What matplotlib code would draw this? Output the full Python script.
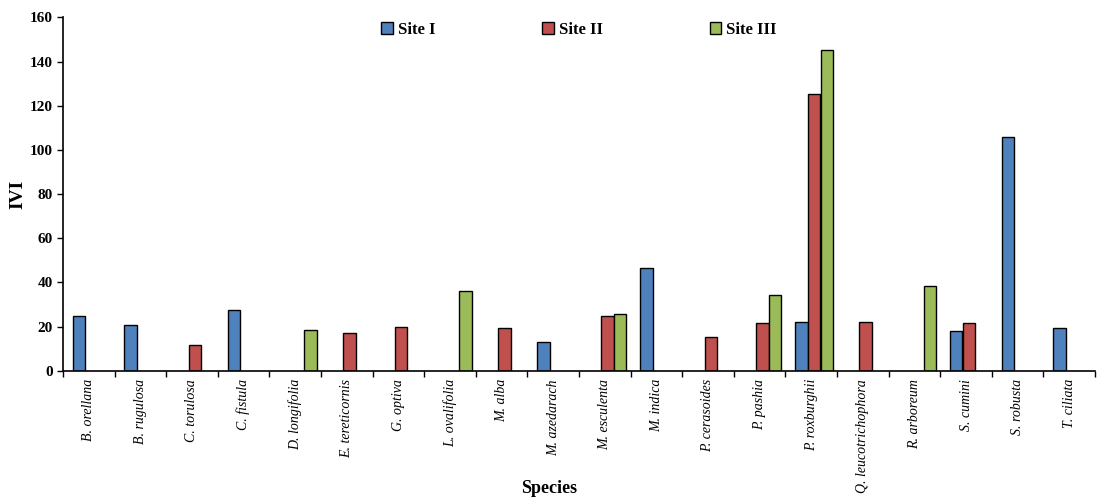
import numpy as np
import matplotlib.pyplot as plt
from matplotlib.ticker import FixedLocator, NullFormatter

species = ['B. orellana', 'B. rugulosa', 'C. torulosa', 'C. fistula', 'D. longifolia',
           'E. tereticornis', 'G. optiva', 'L. ovalifolia', 'M. alba', 'M. azedarach',
           'M. esculenta', 'M. indica', 'P. cerasoides', 'P. pashia', 'P. roxburghii',
           'Q. leucotrichophora', 'R. arboreum', 'S. cumini', 'S. robusta', 'T. ciliata']
site1 = [24.8, 20.8, 0, 27.6, 0, 0, 0, 0, 0, 13.0,
         0, 46.6, 0, 0, 22.0, 0, 0, 18.0, 105.9, 19.2]
site2 = [0, 0, 11.8, 0, 0, 16.9, 19.8, 0, 19.2, 0,
         24.8, 0, 15.1, 21.5, 125.4, 22.0, 0, 21.5, 0, 0]
site3 = [0, 0, 0, 0, 18.6, 0, 0, 36.1, 0, 0,
         25.8, 0, 0, 34.4, 145.2, 0, 38.3, 0, 0, 0]
series = ['Site I', 'Site II', 'Site III']
colors = ['#4F81BD', '#C0504D', '#9BBB59']

plt.rcParams['font.family'] = ['Liberation Serif', 'DejaVu Serif']

fig = plt.figure(figsize=(11.05, 4.97), dpi=100)
ax = fig.add_axes([0.057, 0.254, 0.934, 0.711])

x = np.arange(len(species))
w = 0.24
offsets = [-0.19, 0.055, 0.30]
for vals, off, c, lab in zip([site1, site2, site3], offsets, colors, series):
    v = np.array(vals, dtype=float)
    mask = v > 0
    ax.bar(x[mask] + off, v[mask], width=w, color=c, edgecolor='black',
           linewidth=1.0, label=lab)

ax.set_xlim(-0.5, len(species) - 0.5)
ax.set_ylim(0, 160)
ax.set_yticks(np.arange(0, 161, 20))
ax.tick_params(axis='y', labelsize=11, direction='out', length=4, width=1)
for t in ax.get_yticklabels():
    t.set_fontweight('bold')

# category boundaries carry the ticks, names sit at the centres
ax.xaxis.set_major_locator(FixedLocator(np.arange(-0.5, len(species), 1.0)))
ax.xaxis.set_major_formatter(NullFormatter())
ax.tick_params(axis='x', which='major', direction='out', length=4, width=1)
ax.xaxis.set_minor_locator(FixedLocator(x))
ax.set_xticklabels(species, minor=True, rotation=90, fontstyle='italic', fontsize=10)
ax.tick_params(axis='x', which='minor', length=0, pad=6)

for s in ['top', 'right']:
    ax.spines[s].set_visible(False)
ax.spines['left'].set_linewidth(1.2)
ax.spines['bottom'].set_linewidth(1.2)

ax.set_ylabel('IVI', fontsize=14, fontweight='bold', labelpad=2)
fig.text(0.497, 0.008, 'Species', fontsize=13, fontweight='bold', ha='center')

leg = ax.legend(loc='upper center', bbox_to_anchor=(0.50, 1.03), ncol=3, frameon=False,
                prop={'weight': 'bold', 'size': 12}, columnspacing=6.4,
                handlelength=0.7, handleheight=0.7, handletextpad=0.3)

fig.savefig('out.png', dpi=100)
